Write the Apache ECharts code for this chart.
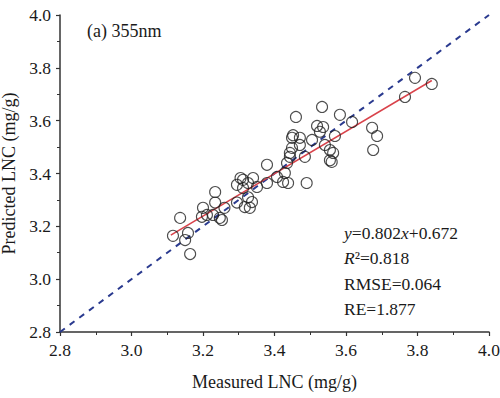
<!DOCTYPE html>
<html>
<head>
<meta charset="utf-8">
<script src="https://cdn.jsdelivr.net/npm/echarts@6/dist/echarts.min.js"></script>
<style>html,body{margin:0;padding:0;background:#fff;}#c{width:500px;height:398px;}</style>
</head>
<body>
<div id="c"></div>
<script>
// Measured LNC (mg/g)
const measured = [3.116,3.136,3.158,3.150,3.164,3.200,3.211,3.197,3.234,3.234,3.247,3.260,3.228,3.253,
  3.295,3.312,3.326,3.317,3.295,3.331,3.340,3.351,3.337,3.312,3.326,3.305,
  3.379,3.379,3.407,3.424,3.438,3.429,3.435,3.443,3.449,3.449,3.452,3.471,3.490,3.505,
  3.527,3.541,3.555,3.560,3.569,3.471,3.793,3.840,3.765,3.583,3.617,3.533,3.673,3.687,
  3.676,3.536,3.519,3.460,3.564,3.485,3.443,3.555];
// Predicted LNC (mg/g)
const predicted = [3.164,3.232,3.175,3.148,3.095,3.270,3.243,3.236,3.290,3.330,3.232,3.270,3.243,3.224,
  3.357,3.376,3.310,3.273,3.290,3.270,3.383,3.349,3.292,3.345,3.364,3.383,
  3.433,3.364,3.387,3.368,3.364,3.402,3.440,3.463,3.497,3.535,3.545,3.535,3.364,3.527,
  3.558,3.508,3.489,3.444,3.542,3.508,3.762,3.739,3.690,3.622,3.595,3.652,3.573,3.542,
  3.489,3.576,3.580,3.614,3.478,3.463,3.478,3.450];
// Fitted regression line endpoints
const fitX = [3.11, 3.84];
const fitY = [3.167, 3.752];
// 1:1 line
const oneX = [2.8, 4.0];
const oneY = [2.8, 4.0];
const ticks = [2.8, 3.0, 3.2, 3.4, 3.6, 3.8, 4.0];
const statLines = ['{i|y}=0.802{i|x}+0.672', '{i|R}²=0.818', 'RMSE=0.064', 'RE=1.877'];
const panelLabel = '(a) 355nm';

const font = 'Liberation Serif, Times New Roman, serif';
const chart = echarts.init(document.getElementById('c'), null, {renderer: 'svg'});
const axisCommon = {
  type: 'value', min: ticks[0], max: ticks[ticks.length - 1], interval: 0.2,
  nameLocation: 'middle',
  nameTextStyle: {fontFamily: font, fontSize: 18, color: '#1a1a1a'},
  axisLine: {show: true, onZero: false, lineStyle: {color: '#333', width: 1.5}},
  axisTick: {show: true, inside: false, length: 4, lineStyle: {color: '#333', width: 1.2}},
  minorTick: {show: true, splitNumber: 2, length: 3, lineStyle: {color: '#333', width: 1}},
  axisLabel: {fontFamily: font, fontSize: 17.5, color: '#1a1a1a', formatter: v => v.toFixed(1)},
  splitLine: {show: false}
};
chart.setOption({
  backgroundColor: '#fff',
  animation: false,
  grid: {left: 60, top: 15, right: 11, bottom: 66, containLabel: false, outerBoundsMode: 'none'},
  xAxis: Object.assign({}, axisCommon, {name: 'Measured LNC (mg/g)', nameGap: 41,
    axisLabel: Object.assign({}, axisCommon.axisLabel, {margin: 9})}),
  yAxis: Object.assign({}, axisCommon, {name: 'Predicted LNC (mg/g)', nameGap: 38,
    axisLabel: Object.assign({}, axisCommon.axisLabel, {margin: 9})}),
  series: [
    {type: 'line', data: oneX.map((x, i) => [x, oneY[i]]), symbol: 'none', z: 1,
      lineStyle: {color: '#2a3a8f', width: 2, type: [6, 6]}},
    {type: 'line', data: fitX.map((x, i) => [x, fitY[i]]), symbol: 'none', z: 2,
      lineStyle: {color: '#d9434b', width: 1.5}},
    {type: 'scatter', data: measured.map((x, i) => [x, predicted[i]]), symbol: 'circle', symbolSize: 11, z: 3,
      itemStyle: {color: 'rgba(0,0,0,0)', borderColor: '#222', borderWidth: 1.1}}
  ],
  graphic: [
    {type: 'text', left: 87, top: 22, style: {text: panelLabel, font: '18px ' + font, fill: '#1a1a1a'}},
  ].concat(statLines.map((t, i) => ({
    type: 'text', left: 344, top: 224 + i * 25.3,
    style: {text: t, font: '17.5px ' + font, fill: '#1a1a1a',
      rich: {i: {fontStyle: 'italic', fontFamily: font, fontSize: 17.5, fill: '#1a1a1a'}}}
  })))
});
</script>
</body>
</html>
